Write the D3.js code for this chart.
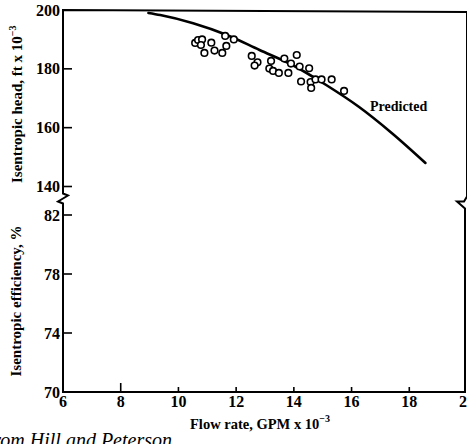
<!DOCTYPE html>
<html>
<head>
<meta charset="utf-8">
<script src="https://cdn.jsdelivr.net/npm/d3@7"></script>
<style>
  html, body { margin: 0; padding: 0; background: #fff; }
  svg { display: block; }
  text { font-family: "Liberation Serif", "Times New Roman", serif; fill: #000; }
</style>
</head>
<body>
<svg id="chart" width="467" height="444"></svg>
<script>
// Flow-rate axis ticks (GPM x 10^-3)
const flowTicks = [6, 8, 10, 12, 14, 16, 18, 20];
// Isentropic head axis ticks (ft x 10^-3)
const headTicks = [140, 160, 180, 200];
// Isentropic efficiency axis ticks (%)
const effTicks = [70, 74, 78, 82];

// Measured head vs. flow rate
const obsFlow = [10.58, 10.68, 10.82, 10.78, 11.14, 10.90, 11.25, 11.52, 11.66, 11.62, 11.92,
                 12.54, 12.74, 12.64, 13.15, 13.21, 13.28, 13.48, 13.67, 13.81, 13.90, 14.10,
                 14.20, 14.53, 14.25, 14.58, 14.60, 14.75, 14.96, 15.31, 15.74];
const obsHead = [188.8, 189.8, 190.0, 188.1, 188.9, 185.4, 186.2, 185.4, 187.8, 191.2, 190.0,
                 184.4, 182.2, 181.1, 180.1, 182.7, 179.3, 178.6, 183.5, 178.6, 181.8, 184.7,
                 180.8, 180.2, 175.7, 175.5, 173.5, 176.4, 176.4, 176.4, 172.5];

// Predicted head curve
const predFlow = [8.96, 9.37, 10.51, 11.68, 12.81, 13.95, 15.12, 16.25, 17.39, 18.56];
const predHead = [199.0, 198.3, 195.5, 191.5, 186.4, 181.3, 174.5, 167.1, 158.2, 148.0];

const svg = d3.select("#chart");

const x = d3.scaleLinear().domain([6, 20]).range([63, 467]);
const yHead = d3.scaleLinear().domain([140, 200]).range([186.5, 10]);
const yEff = d3.scaleLinear().domain([70, 82]).range([392, 215]);

const ink = "#000";

// Frame with broken axes between the two panels
const x0 = x(6), x1 = x(20);
const topY = yHead(200), bot = yEff(70);
const framePath = d3.path();
framePath.moveTo(x0, topY);
framePath.lineTo(x0, yHead(140) + 7);
framePath.lineTo(x0 + 5, yHead(140) + 9);
framePath.lineTo(x0 - 5, yHead(140) + 15);
framePath.lineTo(x0, yHead(140) + 17);
framePath.lineTo(x0, bot);
framePath.lineTo(x1 - 2, bot);
framePath.lineTo(x1 - 2, yHead(140) + 22);
framePath.lineTo(x1 - 10, yHead(140) + 15);
framePath.lineTo(x1 - 3, yHead(140) + 15);
framePath.lineTo(x1, yHead(140) + 10);
framePath.lineTo(x1, topY + 2);
framePath.closePath();
svg.append("path")
  .attr("d", framePath.toString())
  .attr("fill", "none")
  .attr("stroke", ink)
  .attr("stroke-width", 2)
  .attr("stroke-linejoin", "miter");

// Head axis ticks and labels
const headG = svg.append("g");
headG.selectAll("line")
  .data(headTicks.filter(d => d !== 200))
  .join("line")
  .attr("x1", x0).attr("x2", x0 + 9)
  .attr("y1", d => yHead(d)).attr("y2", d => yHead(d))
  .attr("stroke", ink).attr("stroke-width", 1.6);
headG.selectAll("text")
  .data(headTicks)
  .join("text")
  .attr("x", x0 - 3)
  .attr("y", d => yHead(d))
  .attr("dy", "0.35em")
  .attr("text-anchor", "end")
  .attr("font-size", 16)
  .attr("font-weight", "bold")
  .text(d => d);

// Efficiency axis ticks and labels
const effG = svg.append("g");
effG.selectAll("line")
  .data(effTicks.filter(d => d !== 70))
  .join("line")
  .attr("x1", x0).attr("x2", x0 + 9)
  .attr("y1", d => yEff(d)).attr("y2", d => yEff(d))
  .attr("stroke", ink).attr("stroke-width", 1.6);
effG.selectAll("text")
  .data(effTicks)
  .join("text")
  .attr("x", x0 - 3)
  .attr("y", d => yEff(d))
  .attr("dy", "0.35em")
  .attr("text-anchor", "end")
  .attr("font-size", 16)
  .attr("font-weight", "bold")
  .text(d => d);

// Flow-rate ticks and labels
const flowG = svg.append("g");
flowG.selectAll("line")
  .data(flowTicks.filter(d => d !== 6 && d !== 20))
  .join("line")
  .attr("x1", d => x(d)).attr("x2", d => x(d))
  .attr("y1", bot).attr("y2", d => bot - (d === 8 ? 9 : 5))
  .attr("stroke", ink).attr("stroke-width", 1.6);
flowG.selectAll("text")
  .data(flowTicks)
  .join("text")
  .attr("x", d => x(d))
  .attr("y", bot + 15)
  .attr("text-anchor", "middle")
  .attr("font-size", 16)
  .attr("font-weight", "bold")
  .text(d => d);

// Predicted curve
const line = d3.line()
  .x(d => x(d[0]))
  .y(d => yHead(d[1]))
  .curve(d3.curveMonotoneX);
svg.append("path")
  .attr("d", line(d3.zip(predFlow, predHead)))
  .attr("fill", "none")
  .attr("stroke", ink)
  .attr("stroke-width", 2.6)
  .attr("stroke-linecap", "round");

// Measured points
svg.append("g").selectAll("circle")
  .data(d3.zip(obsFlow, obsHead))
  .join("circle")
  .attr("cx", d => x(d[0]))
  .attr("cy", d => yHead(d[1]))
  .attr("r", 3.3)
  .attr("fill", "#fff")
  .attr("stroke", ink)
  .attr("stroke-width", 1.6);

svg.append("text")
  .attr("x", 370).attr("y", 111)
  .attr("font-size", 14)
  .attr("font-weight", "bold")
  .text("Predicted");

// Axis titles
const headTitle = svg.append("text")
  .attr("transform", "translate(22,183) rotate(-90)")
  .attr("font-size", 15)
  .attr("font-weight", "bold");
headTitle.append("tspan").text("Isentropic head, ft x 10");
headTitle.append("tspan").attr("dy", -6).attr("font-size", 10).text("−3");

svg.append("text")
  .attr("transform", "translate(21,301) rotate(-90)")
  .attr("text-anchor", "middle")
  .attr("font-size", 15)
  .attr("font-weight", "bold")
  .text("Isentropic efficiency, %");

const flowTitle = svg.append("text")
  .attr("x", 190).attr("y", 429)
  .attr("font-size", 14.5)
  .attr("font-weight", "bold");
flowTitle.append("tspan").text("Flow rate, GPM x 10");
flowTitle.append("tspan").attr("dy", -7).attr("font-size", 10).text("−3");

// Source note
svg.append("text")
  .attr("x", 172).attr("y", 447)
  .attr("text-anchor", "end")
  .attr("font-size", 20)
  .attr("font-style", "italic")
  .text("From Hill and Peterson");
</script>
</body>
</html>
